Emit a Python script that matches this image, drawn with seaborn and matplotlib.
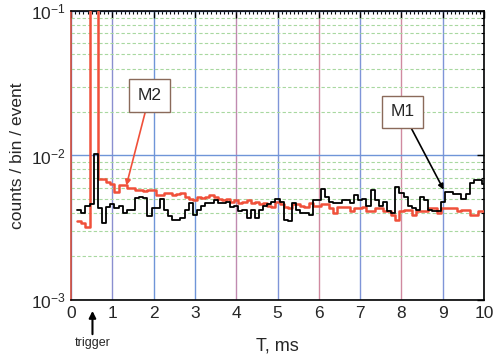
import numpy as np
import pandas as pd
import matplotlib
matplotlib.use("Agg")
import matplotlib.pyplot as plt
import seaborn as sns

# ---- data (counts / bin / event, x1e-3), bins of 0.1 ms starting at 0.15 ms ----
bin_start = 0.15
bin_width = 0.1
m1_vals = [4.2, 4.0, 4.5, 4.6, 10.2, 4.3, 3.4, 4.4, 4.6, 4.3,
           4.5, 4.0, 4.2, 4.2, 5.1, 5.2, 5.1, 3.8, 4.3, 4.3,
           5.0, 4.2, 3.8, 3.6, 3.6, 3.7, 4.2, 4.7, 3.9, 4.2,
           4.5, 4.7, 4.7, 4.9, 4.7, 4.7, 4.8, 4.4, 4.5, 4.1,
           4.2, 3.7, 4.2, 3.7, 4.2, 4.5, 4.6, 4.8, 5.0, 4.8,
           3.6, 3.5, 4.7, 4.2, 4.0, 4.0, 3.9, 4.9, 4.9, 5.9,
           5.2, 4.8, 4.7, 4.7, 4.9, 4.9, 4.7, 5.3, 4.9, 5.0,
           4.5, 5.8, 4.9, 4.5, 4.8, 4.1, 4.0, 6.1, 5.5, 5.2,
           4.5, 4.3, 4.2, 5.2, 4.9, 4.2, 4.1, 4.1, 4.8, 5.6,
           5.6, 5.4, 5.4, 5.0, 5.4, 6.4, 6.8, 6.8, 6.3]
m2_vals = [3.5, 3.4, 3.2, 200.0, 200.0, 6.9, 6.9, 6.6, 6.3, 5.6,
           6.2, 6.2, 6.0, 6.0, 5.8, 5.8, 5.7, 5.8, 5.8, 5.3,
           5.3, 5.5, 5.5, 5.3, 5.4, 5.5, 5.2, 5.0, 4.9, 5.2,
           5.1, 5.2, 5.3, 5.2, 5.0, 4.9, 5.0, 4.8, 4.9, 4.7,
           4.8, 4.9, 4.7, 4.8, 4.6, 4.7, 4.5, 4.4, 4.8, 4.6,
           4.4, 4.3, 4.6, 4.6, 4.5, 4.4, 4.7, 4.5, 4.5, 4.6,
           4.6, 4.3, 4.0, 4.4, 4.4, 4.4, 4.1, 4.3, 4.3, 4.4,
           4.1, 4.1, 4.3, 4.3, 4.1, 4.1, 3.9, 3.6, 4.1, 4.2,
           4.2, 3.9, 4.1, 4.1, 4.1, 4.3, 4.3, 4.0, 4.3, 4.3,
           4.3, 4.3, 4.1, 4.2, 4.2, 3.9, 3.9, 4.1, 4.1]
x_ticks = [0, 1, 2, 3, 4, 5, 6, 7, 8, 9, 10]
y_ticks = [1e-3, 1e-2, 1e-1]
y_ticklabels = [r"$10^{-3}$", r"$10^{-2}$", r"$10^{-1}$"]

n = len(m1_vals)
edges = bin_start + bin_width * np.arange(n + 1)
df = pd.DataFrame({
    "T": np.concatenate([edges, edges]),
    "val": np.concatenate([np.array(m1_vals + [m1_vals[-1]]) * 1e-3,
                           np.array(m2_vals + [m2_vals[-1]]) * 1e-3]),
    "series": ["M1"] * (n + 1) + ["M2"] * (n + 1),
})

sns.set_style("white")
plt.rcParams["font.family"] = ["Liberation Sans", "DejaVu Sans"]
plt.rcParams["mathtext.fontset"] = "custom"
plt.rcParams["mathtext.rm"] = "Liberation Sans"
plt.rcParams["mathtext.it"] = "Liberation Sans"

fig = plt.figure(figsize=(4.93, 3.55), dpi=100)
ax = fig.add_axes([0.144, 0.155, 0.838, 0.814])

red = "#f0503a"
sns.lineplot(data=df[df.series == "M2"], x="T", y="val", ax=ax, color=red,
             lw=1.8, drawstyle="steps-post", estimator=None, sort=False, zorder=4)
sns.lineplot(data=df[df.series == "M1"], x="T", y="val", ax=ax, color="black",
             lw=1.3, drawstyle="steps-post", estimator=None, sort=False, zorder=5)

ax.set_yscale("log")
ax.set_xlim(0, 10)
ax.set_ylim(1e-3, 1e-1)
ax.set_xticks(x_ticks)
ax.set_xticklabels([str(t) for t in x_ticks])
ax.set_xticks(np.arange(0, 10.001, 0.1), minor=True)
ax.set_yticks(y_ticks)
ax.set_yticklabels(y_ticklabels)
ax.yaxis.set_minor_formatter(matplotlib.ticker.NullFormatter())

ax.tick_params(which="both", direction="in", top=True, right=True,
               labelsize=12.5, color="black")
ax.tick_params(which="major", length=5, width=1, pad=4)
ax.tick_params(which="minor", length=2.5, width=0.8)

# grids
ax.grid(True, which="major", axis="x", color="#6f95d8", lw=1.0)
grid_cols = ["#6f95d8", "#8a8fd0", "#6f95d8", "#6f95d8", "#c08ab0",
             "#7f95d8", "#d08aa0", "#7f95d8", "#d08aa0", "#7f95d8", "#6f95d8"]
for gl, c in zip(ax.get_xgridlines(), grid_cols):
    gl.set_color(c)
ax.grid(True, which="major", axis="y", color="#6f95d8", lw=1.0)
ax.grid(True, which="minor", axis="y", color="#a8d8a0", lw=0.8, ls=(0, (3, 2)))
ax.set_axisbelow(True)

for s in ax.spines.values():
    s.set_color("black")
    s.set_linewidth(1.2)
ax.spines["left"].set_color("#d04a3a")

ax.set_xlabel("T, ms", fontsize=13, labelpad=12)
ax.set_ylabel("counts / bin / event", fontsize=12.5, labelpad=4)

# annotations
box = dict(boxstyle="square,pad=0.5", fc="white", ec="#8a6a5a", lw=1)
ax.annotate("M2", xy=(1.34, 6.2e-3), xytext=(1.9, 2.6e-2), fontsize=12.5,
            ha="center", va="center", bbox=box,
            arrowprops=dict(arrowstyle="-|>", color=red, lw=1.2,
                            mutation_scale=8, shrinkA=0, shrinkB=0), zorder=6)
ax.annotate("M1", xy=(9.02, 5.8e-3), xytext=(8.03, 2.0e-2), fontsize=12.5,
            ha="center", va="center", bbox=box,
            arrowprops=dict(arrowstyle="-|>", color="black", lw=1.2,
                            mutation_scale=8, shrinkA=0, shrinkB=0), zorder=6)
ax.annotate("trigger", xy=(0.52, 8.4e-4), xytext=(0.52, 5.0e-4),
            fontsize=9, ha="center", va="center", annotation_clip=False,
            arrowprops=dict(arrowstyle="-|>", color="black", lw=1.5,
                            mutation_scale=10, shrinkA=0, shrinkB=0))

fig.savefig("out.png", dpi=100)
